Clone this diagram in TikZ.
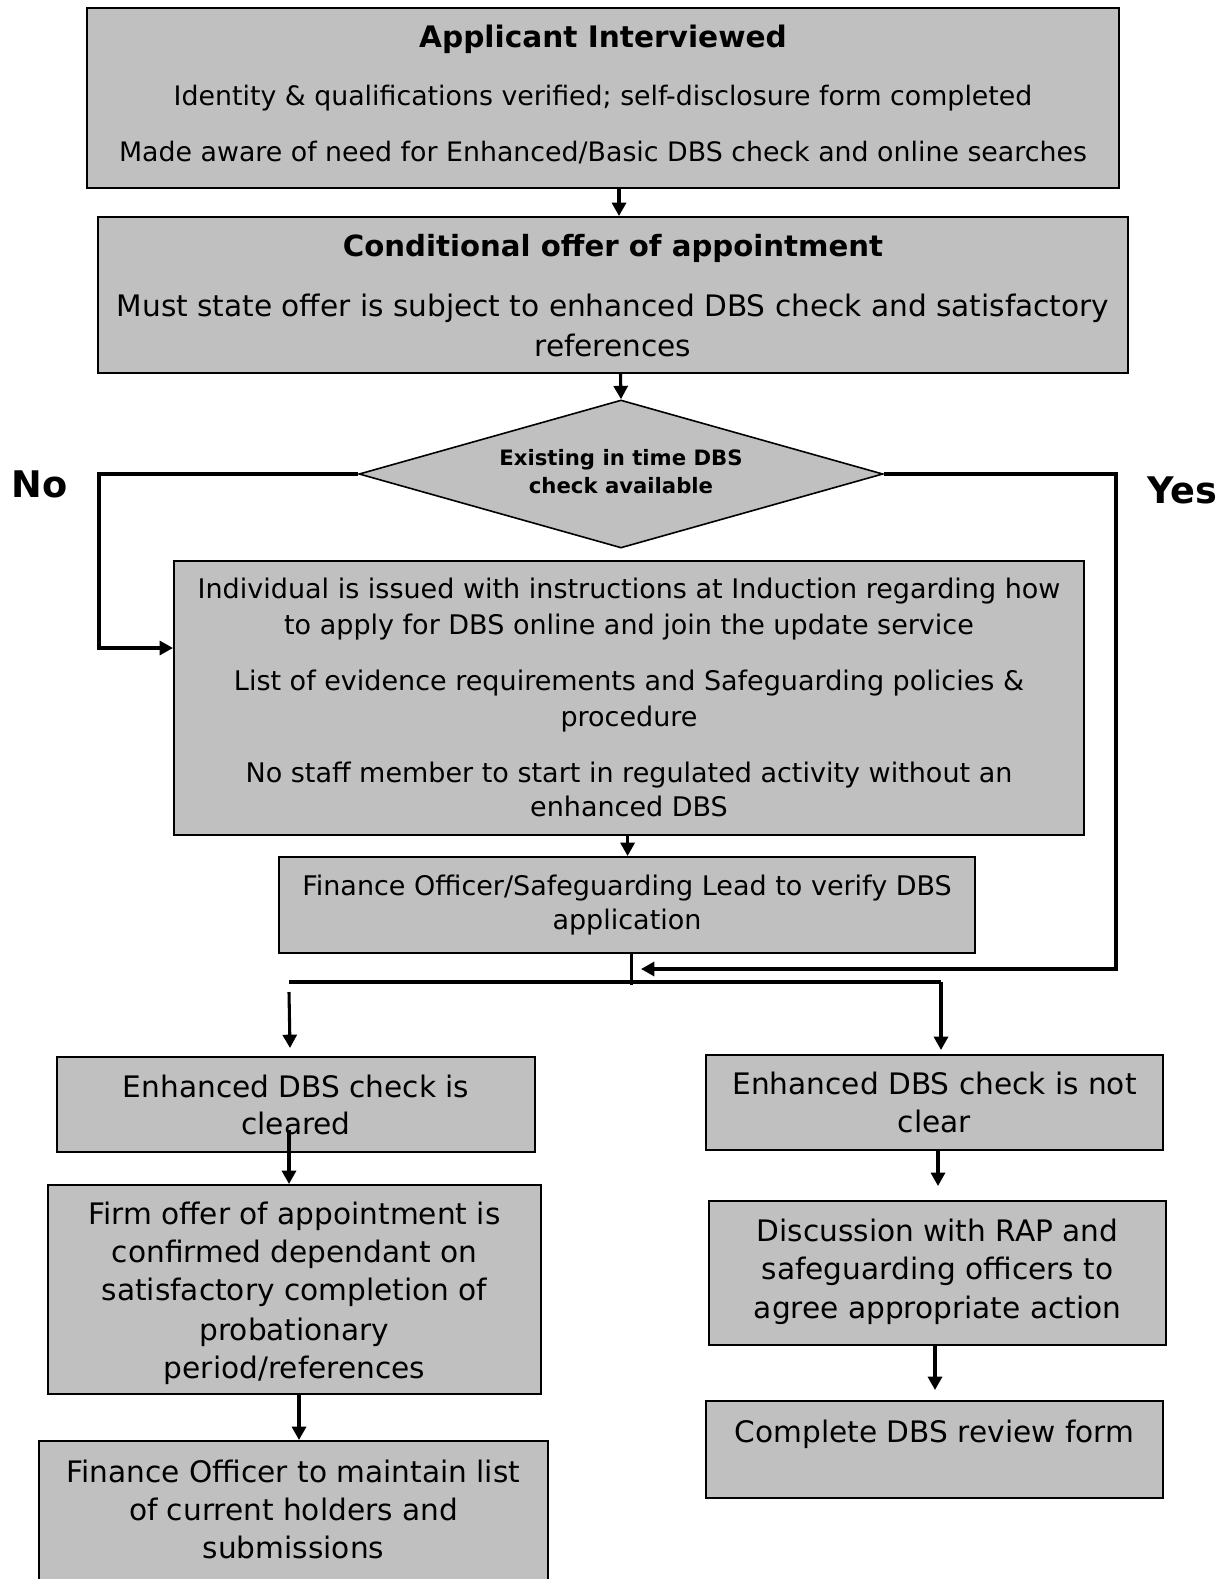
\documentclass[tikz,border=0pt]{standalone}
\usepackage{fontspec}
\setmainfont{DejaVu Sans}
\usetikzlibrary{arrows.meta,fit,shapes.geometric}
\definecolor{boxgray}{HTML}{C0C0C0}
\begin{document}
\begin{tikzpicture}[x=0.75pt,y=-0.75pt,
  box/.style={draw=black, line width=1.5pt, fill=boxgray, inner sep=0pt},
  ln/.style={anchor=base, inner sep=0pt},
  ttlA/.style={ln, font=\fontsize{22.2}{27}\selectfont\bfseries},
  ttlB/.style={ln, font=\fontsize{21.9}{27}\selectfont\bfseries},
  bodyA/.style={ln, font=\fontsize{20.1}{25}\selectfont},
  bodyB/.style={ln, font=\fontsize{22.2}{28}\selectfont},
  bodyM/.style={ln, font=\fontsize{20.25}{26}\selectfont},
  diat/.style={ln, font=\fontsize{15.9}{19}\selectfont\bfseries},
  yn/.style={ln, font=\fontsize{27.5}{32}\selectfont\bfseries},
  conn/.style={line width=2.3pt},
  arr/.style={conn, -{Triangle[length=10pt,width=10.5pt]}}
]
\useasboundingbox (0,0) rectangle (1229,1579);

% ---------- boxes ----------
\node[box, fit={(87,8) (1119,188)}] (b1) {};
\node[box, fit={(98,217) (1128,373)}] (b2) {};
\node[diamond, draw=black, line width=1.2pt, fill=boxgray, inner sep=0pt,
      minimum width=393pt, minimum height=111pt] (d) at (621,474) {};
\node[box, fit={(174,561) (1084,835)}] (m) {};
\node[box, fit={(279,857) (975,953)}] (f) {};
\node[box, fit={(57,1057) (535,1152)}] (c1) {};
\node[box, fit={(48,1185) (541,1394)}] (firm) {};
\node[box, fit={(39,1441) (548,1590)}] (fo) {};
\node[box, fit={(706,1055) (1163,1150)}] (c2) {};
\node[box, fit={(709,1201) (1166,1345)}] (disc) {};
\node[box, fit={(706,1401) (1163,1498)}] (comp) {};

% ---------- texts ----------
\node[ttlA] (t1a) at (603,47.5) {Applicant Interviewed};
\node[bodyA] (t1b) at (603,105.5) {Identity \& qualifications verified; self-disclosure form completed};
\node[bodyA] (t1c) at (603,161.5) {Made aware of need for Enhanced/Basic DBS check and online searches};

\node[ttlB] (t2a) at (613,256.5) {Conditional offer of appointment};
\node[bodyB] (t2b) at (613,316.5) {Must state offer is subject to enhanced DBS check and satisfactory};
\node[bodyB] (t2c) at (613,356.5) {references};

\node[diat] (dt1) at (621,465.5) {Existing in time DBS};
\node[diat] (dt2) at (621,493.5) {check available};

\node[yn] (no) at (39.5,497) {No};
\node[yn] (yes) at (1182,503) {Yes};

\node[bodyM] (m1) at (629,598.5) {Individual is issued with instructions at Induction regarding how};
\node[bodyM] (m2) at (629,634) {to apply for DBS online and join the update service};
\node[bodyM] (m3) at (629,690.5) {List of evidence requirements and Safeguarding policies \&};
\node[bodyM] (m4) at (629,726.5) {procedure};
\node[bodyM] (m5) at (629,782) {No staff member to start in regulated activity without an};
\node[bodyM] (m6) at (629,816.5) {enhanced DBS};

\node[bodyM] (f1) at (627,895) {Finance Officer/Safeguarding Lead to verify DBS};
\node[bodyM] (f2) at (627,929.2) {application};

\node[bodyB] (c1a) at (296,1097.5) {Enhanced DBS check is};
\node[bodyB] (c1b) at (296,1134.5) {cleared};

\node[bodyB] (fi1) at (294.5,1224.5) {Firm offer of appointment is};
\node[bodyB] (fi2) at (294.5,1262.5) {confirmed dependant on};
\node[bodyB] (fi3) at (294.5,1300.5) {satisfactory completion of};
\node[bodyB] (fi4) at (294.5,1340.5) {probationary};
\node[bodyB] (fi5) at (294.5,1378.5) {period/references};

\node[bodyB] (fo1) at (293.5,1482.5) {Finance Officer to maintain list};
\node[bodyB] (fo2) at (293.5,1520.5) {of current holders and};
\node[bodyB] (fo3) at (293.5,1558.5) {submissions};

\node[bodyB] (c2a) at (934.5,1094.5) {Enhanced DBS check is not};
\node[bodyB] (c2b) at (934.5,1132.5) {clear};

\node[bodyB] (d1) at (937.5,1241.5) {Discussion with RAP and};
\node[bodyB] (d2) at (937.5,1279.5) {safeguarding officers to};
\node[bodyB] (d3) at (937.5,1318.5) {agree appropriate action};

\node[bodyB] (cp1) at (934.5,1442) {Complete DBS review form};

% ---------- helper coordinates ----------
\coordinate (xa) at (619,0);
\coordinate (xb) at (620.5,0);
\coordinate (xm) at (627.6,0);
\coordinate (xj) at (631.6,0);
\coordinate (nopt) at (99,648);
\coordinate (yespt) at (1116,969);
\coordinate (yesend) at (641,969);
\coordinate (splitL) at (289,982);
\coordinate (splitR) at (941,982);
\coordinate (la) at (289,992);
\coordinate (lb) at (290,1048);
\coordinate (cs) at (289,1130);
\coordinate (xfirm) at (299,0);
\coordinate (xc2) at (938,0);
\coordinate (xdisc) at (935,0);

% ---------- connectors ----------
\draw[arr] (b1.south -| xa) -- (b2.north -| xa);
\draw[arr] (b2.south -| xb) -- (d.north);
\draw[arr] (d.west) -| (nopt) -- (m.west |- nopt);
\draw[arr] (d.east) -| (yespt) -- (yesend);
\draw[arr] (m.south -| xm) -- (f.north -| xm);
\draw[conn] (f.south -| xj) -- ([yshift=-2pt]xj |- splitL);
\draw[conn] (splitL) -- (splitR);
\draw[arr] (la) -- (lb);
\draw[arr] (splitR) -- ([yshift=3pt]c2.north -| splitR);
\draw[arr] (cs) -- (firm.north -| cs);
\draw[arr] (firm.south -| xfirm) -- (fo.north -| xfirm);
\draw[arr] (c2.south -| xc2) -- ([yshift=10.5pt]disc.north -| xc2);
\draw[arr] (disc.south -| xdisc) -- ([yshift=7.5pt]comp.north -| xdisc);
\end{tikzpicture}
\end{document}
